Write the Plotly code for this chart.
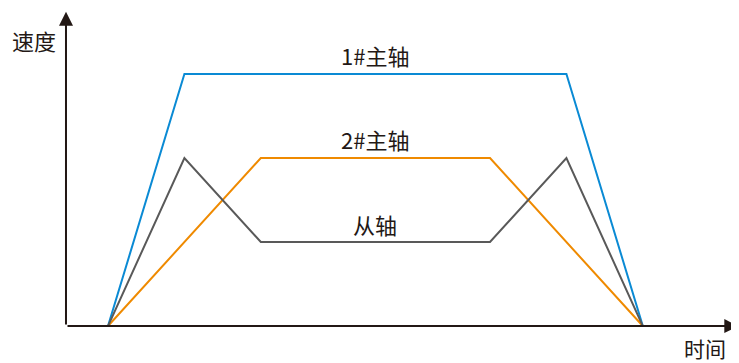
import plotly.graph_objects as go

# time points and speeds (arbitrary units)
t = [1, 2, 3, 6, 7, 8]
spindle1 = [0, 3, 3, 3, 3, 0]
spindle2 = [0, 1, 2, 2, 1, 0]
follower = [0, 2, 1, 1, 2, 0]

labels = ["1#主轴", "2#主轴", "从轴"]
label_y = [3.23, 2.23, 1.21]

font = "Noto Sans CJK SC"
axis_col = "#231815"

fig = go.Figure()
fig.add_trace(go.Scatter(x=t, y=spindle1, mode="lines",
                         line=dict(color="#0a8ad4", width=2)))
fig.add_trace(go.Scatter(x=t, y=spindle2, mode="lines",
                         line=dict(color="#ef8a00", width=2)))
fig.add_trace(go.Scatter(x=t, y=follower, mode="lines",
                         line=dict(color="#595959", width=2)))

# axes drawn as arrows
x0, y0 = 0.45, 0
fig.add_annotation(x=x0, y=3.74, ax=x0, ay=y0, xref="x", yref="y",
                   axref="x", ayref="y", text="", showarrow=True,
                   arrowhead=2, arrowsize=1.4, arrowwidth=2, arrowcolor=axis_col)
fig.add_annotation(x=9.25, y=y0, ax=x0, ay=y0, xref="x", yref="y",
                   axref="x", ayref="y", text="", showarrow=True,
                   arrowhead=2, arrowsize=1.4, arrowwidth=2, arrowcolor=axis_col)

fig.add_annotation(x=0.03, y=3.4, text="速度", showarrow=False,
                   font=dict(family=font, size=22, color=axis_col))
fig.add_annotation(x=8.81, y=-0.265, text="时间", showarrow=False,
                   font=dict(family=font, size=21, color=axis_col))
for lab, ly in zip(labels, label_y):
    fig.add_annotation(x=4.5, y=ly, text=lab, showarrow=False,
                       font=dict(family=font, size=22, color=axis_col))

fig.update_layout(
    width=731, height=355,
    margin=dict(l=0, r=0, t=0, b=0),
    plot_bgcolor="white", paper_bgcolor="white",
    showlegend=False,
    xaxis=dict(range=[-0.309, 9.259], visible=False, fixedrange=True),
    yaxis=dict(range=[-0.44, 3.786], visible=False, fixedrange=True),
)

fig.write_html("out.html")
